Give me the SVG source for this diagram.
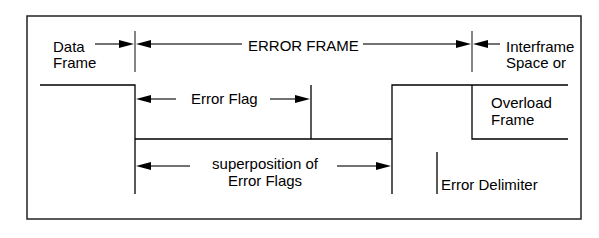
<svg xmlns="http://www.w3.org/2000/svg" width="599" height="238" viewBox="0 0 599 238">
<style>
.t{font-family:"Liberation Sans",Arial,sans-serif;font-size:15px;fill:#000}
.ln{stroke:#000;stroke-width:1.3;fill:none}
.ar{stroke:#444;stroke-width:1.3;fill:none}
.hd{fill:#000;stroke:none}
</style>
<rect x="0" y="0" width="599" height="238" fill="#fff"/>
<rect id="frame" x="27" y="16" width="554" height="203" fill="none" stroke="#222" stroke-width="1.5"/>
<g id="connectors">
<path class="ar" d="M135 31V72M472 31V72"/>
<path class="ln" d="M40 85H135V194M135 139H392M392 194V85H568M472 85V139H568M311 85V139M437 152V194"/>
<path class="ar" d="M95 44H121M150 44H242M363 44H458M487 44H500M150 99H176M270 99H297M150 166H190M337 166H377"/>
<polygon class="hd" points="134,44 119,40 119,48"/>
<polygon class="hd" points="136,44 151,40 151,48"/>
<polygon class="hd" points="471,44 456,40 456,48"/>
<polygon class="hd" points="473,44 488,40 488,48"/>
<polygon class="hd" points="136,99 151,95 151,103"/>
<polygon class="hd" points="310,99 295,95 295,103"/>
<polygon class="hd" points="136,166 151,162 151,170"/>
<polygon class="hd" points="391,166 376,162 376,170"/>
</g>
<g id="data-frame"><text class="t" x="53" y="51.5">Data</text><text class="t" x="53" y="68">Frame</text></g>
<g id="error-frame"><text class="t" x="248" y="50.5">ERROR FRAME</text></g>
<g id="interframe"><text class="t" x="506" y="51.5">Interframe</text><text class="t" x="506" y="68">Space or</text></g>
<g id="overload"><text class="t" x="491" y="108">Overload</text><text class="t" x="491" y="124.5">Frame</text></g>
<g id="error-flag"><text class="t" x="191" y="104">Error Flag</text></g>
<g id="superposition"><text class="t" x="265" y="169" text-anchor="middle">superposition of</text><text class="t" x="265" y="186" text-anchor="middle">Error Flags</text></g>
<g id="error-delimiter"><text class="t" x="441" y="190">Error Delimiter</text></g>
</svg>
